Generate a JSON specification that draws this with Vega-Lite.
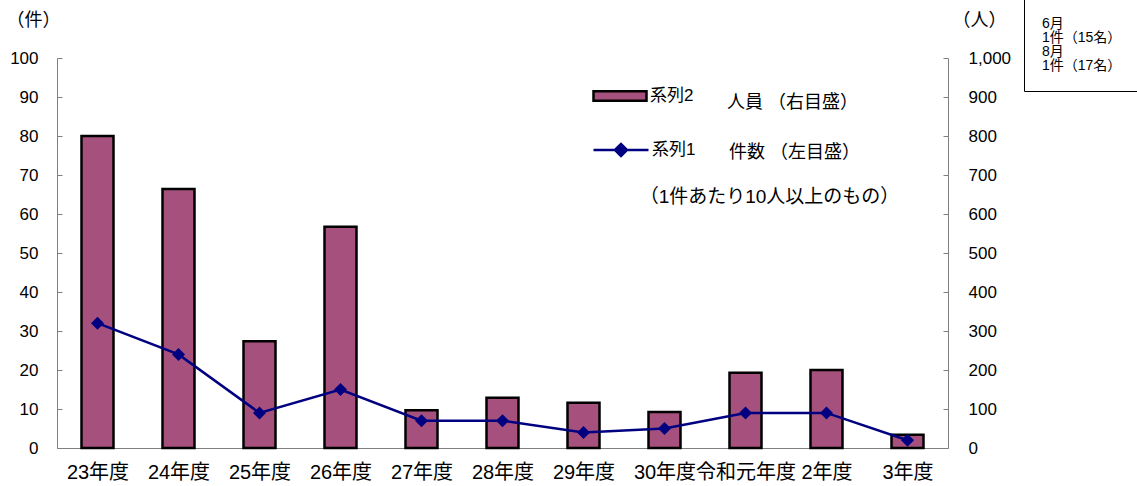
{
  "$schema": "https://vega.github.io/schema/vega-lite/v6.json",
  "width": 891,
  "height": 390,
  "autosize": {"type": "none"},
  "padding": {"left": 57, "top": 58, "right": 189, "bottom": 38},
  "background": "white",
  "config": {
    "view": {"stroke": null},
    "font": "Liberation Sans, Noto Sans CJK JP",
    "axis": {
      "domainColor": "#808080",
      "tickColor": "#808080",
      "labelColor": "#000000",
      "titleColor": "#000000",
      "titleFontWeight": "normal",
      "grid": false
    },
    "legend": {"labelColor": "#000000", "titleColor": "#000000", "titleFontWeight": "normal"}
  },
  "datasets": {
    "main": [
      {"year": "23年度", "count": 32, "people": 800},
      {"year": "24年度", "count": 24, "people": 664},
      {"year": "25年度", "count": 9, "people": 274},
      {"year": "26年度", "count": 15, "people": 567},
      {"year": "27年度", "count": 7, "people": 97},
      {"year": "28年度", "count": 7, "people": 129},
      {"year": "29年度", "count": 4, "people": 116},
      {"year": "30年度", "count": 5, "people": 92},
      {"year": "令和元年度", "count": 9, "people": 193},
      {"year": "2年度", "count": 9, "people": 200},
      {"year": "3年度", "count": 2, "people": 34}
    ],
    "note": [{"text": "（1件あたり10人以上のもの）"}],
    "box": [
      {"line": "6月"},
      {"line": "1件（15名）"},
      {"line": "8月"},
      {"line": "1件（17名）"}
    ]
  },
  "encoding": {
    "x": {
      "field": "year",
      "type": "nominal",
      "scale": {
        "domain": ["23年度", "24年度", "25年度", "26年度", "27年度", "28年度", "29年度", "30年度", "令和元年度", "2年度", "3年度"],
        "paddingInner": 0.605,
        "paddingOuter": 0.3025
      },
      "axis": {
        "title": null,
        "labelAngle": 0,
        "labelFontSize": 20,
        "labelPadding": 19,
        "tickSize": -5,
        "tickBand": "extent",
        "labelOverlap": false,
        "labelBound": false
      }
    }
  },
  "layer": [
    {
      "data": {"name": "main"},
      "mark": {"type": "bar", "stroke": "black", "strokeWidth": 2.5},
      "encoding": {
        "y": {
          "field": "people",
          "type": "quantitative",
          "scale": {"domain": [0, 1000]},
          "axis": {
            "orient": "right",
            "values": [0, 100, 200, 300, 400, 500, 600, 700, 800, 900, 1000],
            "format": ",d",
            "labelFontSize": 17,
            "tickSize": -5,
            "labelPadding": 25,
            "title": "（人）",
            "titleAngle": 0,
            "titleFontSize": 18,
            "titleAlign": "left",
            "titleBaseline": "middle",
            "titleX": 4,
            "titleY": -38
          }
        },
        "fill": {
          "datum": "系列2",
          "scale": {"range": ["#a6507e"]},
          "legend": {
            "orient": "none",
            "legendX": 535,
            "legendY": 10,
            "padding": 0,
            "title": "人員 （右目盛）",
            "titleOrient": "right",
            "titleFontSize": 18,
            "titlePadding": 34,
            "titleBaseline": "line-top",
            "titleLineHeight": 32,
            "symbolType": "M-1,-0.18H1V0.18H-1Z",
            "symbolSize": 2809,
            "symbolStrokeColor": "black",
            "symbolStrokeWidth": 2.5,
            "symbolFillColor": "#a6507e",
            "labelFontSize": 17,
            "labelOffset": 2
          }
        }
      }
    },
    {
      "data": {"name": "main"},
      "mark": {"type": "line", "strokeWidth": 2.5, "point": {"shape": "diamond", "size": 170, "filled": true}},
      "encoding": {
        "y": {
          "field": "count",
          "type": "quantitative",
          "scale": {"domain": [0, 100]},
          "axis": {
            "orient": "left",
            "values": [0, 10, 20, 30, 40, 50, 60, 70, 80, 90, 100],
            "labelFontSize": 17,
            "tickSize": -5,
            "labelPadding": 24,
            "title": "（件）",
            "titleAngle": 0,
            "titleFontSize": 18,
            "titleAlign": "left",
            "titleBaseline": "middle",
            "titleX": -51,
            "titleY": -38
          }
        },
        "color": {
          "datum": "系列1",
          "scale": {"range": ["#000080"]},
          "legend": {
            "orient": "none",
            "legendX": 535,
            "legendY": 63,
            "padding": 0,
            "title": "件数 （左目盛）",
            "titleOrient": "right",
            "titleFontSize": 18,
            "titlePadding": 34,
            "titleBaseline": "line-top",
            "titleLineHeight": 24,
            "symbolType": "M-1,0H1M-0.22,0L0,-0.22L0.22,0L0,0.22Z",
            "symbolSize": 3025,
            "symbolStrokeColor": "#000080",
            "symbolFillColor": "#000080",
            "symbolStrokeWidth": 2.5,
            "labelFontSize": 17,
            "labelOffset": 2
          }
        }
      }
    },
    {
      "data": {"name": "note"},
      "mark": {"type": "text", "fontSize": 19, "align": "center", "baseline": "middle", "dx": 24, "dy": 2, "color": "black"},
      "encoding": {
        "x": {"datum": "令和元年度", "type": "nominal"},
        "y": {"datum": 65, "type": "quantitative", "scale": {"domain": [0, 100]}, "axis": null},
        "text": {"field": "text"}
      }
    },
    {
      "data": {"name": "box"},
      "mark": {"type": "point", "opacity": 0},
      "encoding": {
        "shape": {
          "field": "line",
          "type": "nominal",
          "scale": {"domain": ["6月", "1件（15名）", "8月", "1件（17名）"]},
          "legend": {
            "orient": "none",
            "legendX": 967,
            "legendY": -59,
            "padding": 18,
            "title": null,
            "strokeColor": "black",
            "fillColor": "white",
            "symbolSize": 0,
            "symbolOpacity": 0,
            "labelOffset": -14,
            "labelFontSize": 14,
            "rowPadding": 0,
            "labelLimit": 300
          }
        }
      }
    }
  ],
  "resolve": {"scale": {"y": "independent"}}
}
